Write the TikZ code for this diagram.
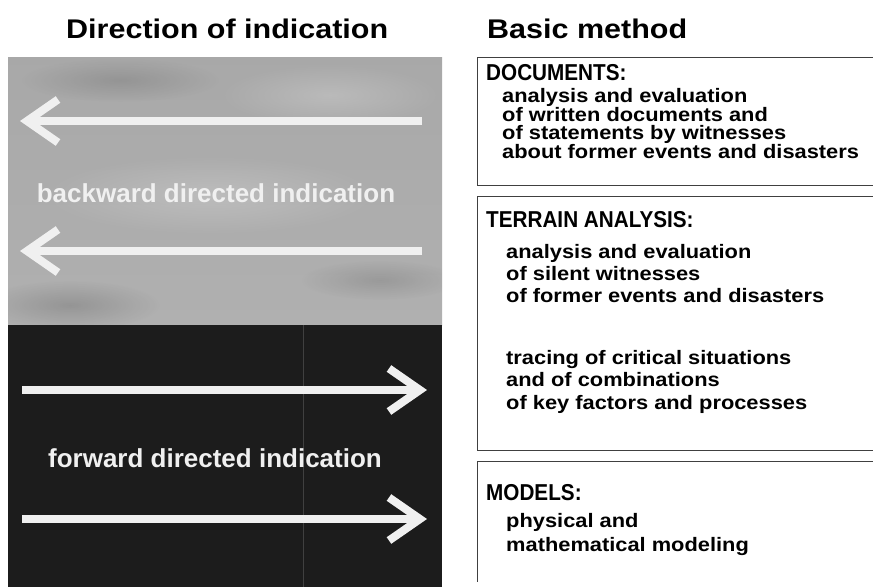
\documentclass[tikz,border=0pt]{standalone}
\usepackage{fontspec}
\setmainfont{Liberation Sans}
\newfontfamily\headfont{Liberation Sans}[FakeStretch=1.13]
\newfontfamily\capsfont{Liberation Sans}[FakeStretch=0.9]
\newfontfamily\bodyfont{Liberation Sans}[FakeStretch=1.12]
\usetikzlibrary{arrows.meta,fadings}
\definecolor{paneldark}{gray}{0.11}
\definecolor{lighttext}{gray}{0.94}
\tikzfading[name=softblob,inner color=transparent!0,outer color=transparent!100]
\tikzset{
    titletext/.style={anchor=base west,inner sep=0pt,font=\headfont\bfseries\fontsize{27}{30}\selectfont},
    boxhead/.style={anchor=base west,inner sep=0pt,font=\capsfont\bfseries\fontsize{23}{26}\selectfont},
    boxbody/.style={anchor=base west,inner sep=0pt,align=left},
    boxline/.style={draw=black!75,line width=1pt},
    whitearrow/.style={draw=lighttext,line width=8pt,-{Straight Barb[length=31pt,width=43pt]}},
    paneltext/.style={anchor=base,inner sep=0pt,text=lighttext,font=\bfseries\fontsize{26}{30}\selectfont}
}

\begin{document}
\begin{tikzpicture}[x=1pt,y=-1pt]
    \useasboundingbox[fill=white] (0,0) rectangle (873,587);

    % 标题
    \node[titletext] (dirtitle) at (66,38) {Direction of indication};
    \node[titletext] (methtitle) at (487,38) {Basic method};

    % 左边两块底色
    \begin{scope}
        \clip (8,57) rectangle (442,325);
        \shade[top color=black!34,middle color=black!22,bottom color=black!31]
            (8,57) rectangle (442,325);
        \fill[white,opacity=0.2,path fading=softblob] (210,195) ellipse (170 and 40);
        \fill[white,opacity=0.2,path fading=softblob] (330,95) ellipse (110 and 30);
        \fill[black,opacity=0.15,path fading=softblob] (70,305) ellipse (90 and 25);
        \fill[black,opacity=0.12,path fading=softblob] (120,80) ellipse (100 and 22);
        \fill[black,opacity=0.12,path fading=softblob] (380,280) ellipse (80 and 20);
    \end{scope}
    \fill[paneldark] (8,325) rectangle (442,587);
    \draw[black!75,line width=0.8pt] (303,325) -- (303,587);

    % 箭头
    \coordinate (bk1s) at (422,121);
    \coordinate (bk1e) at (20,121);
    \coordinate (bk2s) at (422,251);
    \coordinate (bk2e) at (20,251);
    \coordinate (fw1s) at (22,390);
    \coordinate (fw1e) at (427,390);
    \coordinate (fw2s) at (22,519);
    \coordinate (fw2e) at (427,519);
    \draw[whitearrow] (bk1s) -- (bk1e);
    \draw[whitearrow] (bk2s) -- (bk2e);
    \draw[whitearrow] (fw1s) -- (fw1e);
    \draw[whitearrow] (fw2s) -- (fw2e);

    \node[paneltext] (backtext) at (216,202) {backward directed indication};
    \node[paneltext] (fwdtext) at (215,467) {forward directed indication};

    % 右边三个框
    \draw[boxline] (873,57) -- (477,57) -- (477,185) -- (873,185);
    \draw[boxline] (873,196) -- (477,196) -- (477,450) -- (873,450);
    \draw[boxline] (873,461) -- (477,461) -- (477,582);

    % 框里的字，基线取最后一行
    \node[boxhead] (docs) at (486,80) {DOCUMENTS:};
    \node[boxbody,font=\bodyfont\bfseries\fontsize{19.5}{18.5}\selectfont]
        (docstext) at (502,158)
        {analysis and evaluation\\of written documents and\\of statements by witnesses\\about former events and disasters};

    \node[boxhead] (terrain) at (486,227) {TERRAIN ANALYSIS:};
    \node[boxbody,font=\bodyfont\bfseries\fontsize{19.5}{22}\selectfont]
        (terraintext) at (506,302)
        {analysis and evaluation\\of silent witnesses\\of former events and disasters};
    \node[boxbody,font=\bodyfont\bfseries\fontsize{19.5}{22.5}\selectfont]
        (tracetext) at (506,409)
        {tracing of critical situations\\and of combinations\\of key factors and processes};

    \node[boxhead] (models) at (486,500) {MODELS:};
    \node[boxbody,font=\bodyfont\bfseries\fontsize{19.5}{24}\selectfont]
        (modeltext) at (506,551)
        {physical and\\mathematical modeling};
\end{tikzpicture}
\end{document}
